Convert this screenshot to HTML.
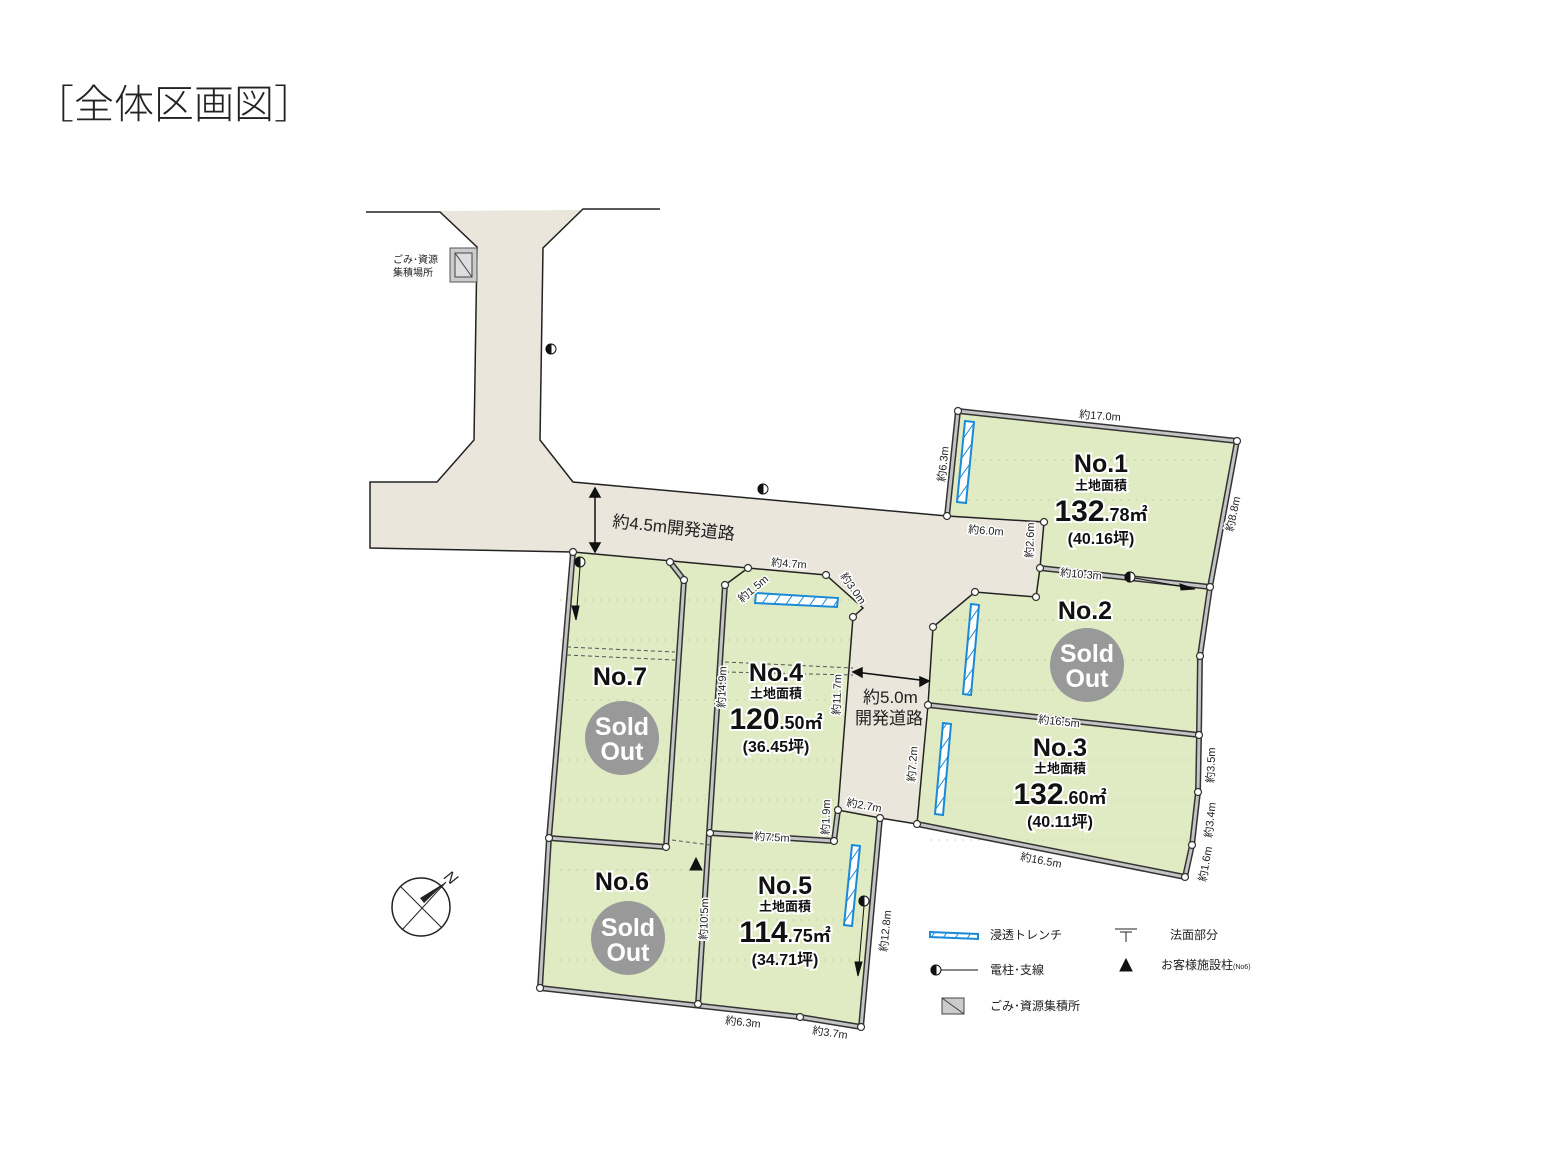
<!DOCTYPE html>
<html><head><meta charset="utf-8"><style>
html,body{margin:0;padding:0;background:#fff;}
svg{display:block;font-family:"Liberation Sans","Noto Sans CJK JP",sans-serif;}
.m{font-size:11px;fill:#222;stroke:#fff;stroke-width:3px;paint-order:stroke;}
.big{font-weight:bold;fill:#111;stroke:#fff;stroke-width:4px;paint-order:stroke;}
</style></head><body>
<svg width="1560" height="1170" viewBox="0 0 1560 1170" xmlns="http://www.w3.org/2000/svg">
<text x="34" y="118" font-size="40" fill="#222" font-family="Noto Sans CJK JP,sans-serif" font-weight="300">［全体区画図］</text>

<!-- road -->
<polygon fill="#ebe6dc" points="440,211 582,210 543,248 540,440 573,482 947,516 1044,522 1036,597 975,592 933,627 917,824 880,818 836,808 853,617 863,608 826,575 748,568 573,552 370,548 370,482 437,482 474,440 477,247"/>
<polyline fill="none" stroke="#222" stroke-width="1.5" points="366,212 440,212 477,247 474,440 437,482 370,482 370,548 573,552"/>
<polyline fill="none" stroke="#222" stroke-width="1.5" points="660,209 583,209 543,248 540,440 573,482 947,516"/>

<!-- lots -->
<g fill="#e0eac3">
<polygon points="958,411 1237,441 1210,587 1040,568 1044,522 947,516"/>
<polygon points="1036,568 1210,587 1200,656 1199,735 928,705 933,627 975,592 1036,597"/>
<polygon points="928,705 1199,735 1198,792 1192,845 1185,877 917,824"/>
<polygon points="573,552 748,568 826,575 863,608 853,617 838,810 880,818 861,1027 540,988"/>
</g>
<g stroke="#b8cc96" stroke-width="1" stroke-dasharray="2 6" opacity="0.7">
<path d="M560 600H850M560 640H850M560 700H840M560 760H840M560 800H840M560 870H870M560 920H860M560 960H860"/>
<path d="M950 460H1220M960 500H1220M940 620H1200M940 660H1200M940 690H1200M930 760H1190M930 800H1190M930 840H1190"/>
</g>

<!-- boundaries -->
<g fill="none" stroke="#333" stroke-width="6" stroke-linejoin="round">
<polyline points="947,516 958,411 1237,441 1210,587 1200,656 1199,735 1198,792 1192,845 1185,877 917,824"/>
<line x1="1040" y1="568" x2="1210" y2="587"/>
<line x1="928" y1="705" x2="1199" y2="735"/>
<line x1="573" y1="552" x2="549" y2="838"/><line x1="549" y1="838" x2="540" y2="988"/>
<polyline points="540,988 800,1017 861,1027 880,818"/>
<polyline points="670,562 684,580 666,847"/>
<line x1="725" y1="585" x2="698" y2="1004"/>
<line x1="549" y1="838" x2="666" y2="847"/>
<line x1="710" y1="833" x2="834" y2="841"/>
<line x1="834" y1="841" x2="838" y2="810"/>
</g>
<g fill="none" stroke="#c4c4c4" stroke-width="3" stroke-linejoin="round">
<polyline points="947,516 958,411 1237,441 1210,587 1200,656 1199,735 1198,792 1192,845 1185,877 917,824"/>
<line x1="1040" y1="568" x2="1210" y2="587"/>
<line x1="928" y1="705" x2="1199" y2="735"/>
<line x1="573" y1="552" x2="549" y2="838"/><line x1="549" y1="838" x2="540" y2="988"/>
<polyline points="540,988 800,1017 861,1027 880,818"/>
<polyline points="670,562 684,580 666,847"/>
<line x1="725" y1="585" x2="698" y2="1004"/>
<line x1="549" y1="838" x2="666" y2="847"/>
<line x1="710" y1="833" x2="834" y2="841"/>
<line x1="834" y1="841" x2="838" y2="810"/>
</g>
<g fill="none" stroke="#222" stroke-width="1.5">
<polyline points="573,552 748,568 826,575 863,608 853,617 838,810 880,818 917,824 928,705 933,627 975,592 1036,597 1040,568 1044,522 947,516"/>
<polyline points="748,568 725,585"/>
</g>
<g stroke="#555" stroke-dasharray="4 3" fill="none">
<path d="M567 647L675 652M567 655L675 660M725 662L853 668M725 672L853 675M672 840L710 845"/>
</g>
<g fill="#fff" stroke="#333" stroke-width="1.2">
<circle cx="958" cy="411" r="3.5"/><circle cx="1237" cy="441" r="3.5"/><circle cx="947" cy="516" r="3.5"/><circle cx="1044" cy="522" r="3.5"/><circle cx="1040" cy="568" r="3.5"/><circle cx="1210" cy="587" r="3.5"/><circle cx="1036" cy="597" r="3.5"/><circle cx="975" cy="592" r="3.5"/><circle cx="933" cy="627" r="3.5"/><circle cx="1200" cy="656" r="3.5"/><circle cx="928" cy="705" r="3.5"/><circle cx="1199" cy="735" r="3.5"/><circle cx="1198" cy="792" r="3.5"/><circle cx="1192" cy="845" r="3.5"/><circle cx="1185" cy="877" r="3.5"/><circle cx="917" cy="824" r="3.5"/><circle cx="880" cy="818" r="3.5"/><circle cx="838" cy="810" r="3.5"/><circle cx="834" cy="841" r="3.5"/><circle cx="710" cy="833" r="3.5"/><circle cx="853" cy="617" r="3.5"/><circle cx="826" cy="575" r="3.5"/><circle cx="748" cy="568" r="3.5"/><circle cx="725" cy="585" r="3.5"/><circle cx="670" cy="562" r="3.5"/><circle cx="684" cy="580" r="3.5"/><circle cx="573" cy="552" r="3.5"/><circle cx="549" cy="838" r="3.5"/><circle cx="666" cy="847" r="3.5"/><circle cx="540" cy="988" r="3.5"/><circle cx="698" cy="1004" r="3.5"/><circle cx="800" cy="1017" r="3.5"/><circle cx="861" cy="1027" r="3.5"/>
</g>

<defs><pattern id="h" width="10" height="10" patternUnits="userSpaceOnUse" patternTransform="rotate(35)"><rect width="10" height="10" fill="#fff"/><line x1="0" y1="0" x2="0" y2="10" stroke="#1a8ad8" stroke-width="2"/></pattern></defs>
<g fill="url(#h)" stroke="#1a8ad8" stroke-width="2">
<polygon points="965,421 974,422 966,503 957,502"/>
<polygon points="756,593 838,598 837,607 755,603"/>
<polygon points="971,604 979,605 971,695 963,694"/>
<polygon points="943,723 951,724 943,815 935,814"/>
<polygon points="852,845 860,846 852,926 844,925"/>
<polygon points="930,932 978,934 978,939 930,937"/>
</g>

<g stroke="#111" fill="#111">
<circle cx="551" cy="349" r="5" fill="#fff"/><path d="M551 344a5 5 0 0 0 0 10z"/>
<circle cx="763" cy="489" r="5" fill="#fff"/><path d="M763 484a5 5 0 0 0 0 10z"/>
<circle cx="580" cy="562" r="5" fill="#fff"/><path d="M580 557a5 5 0 0 0 0 10z"/>
<line x1="580" y1="567" x2="576" y2="620"/><path d="M572 606l4 14 3-14z"/>
<circle cx="1130" cy="577" r="5" fill="#fff"/><path d="M1130 572a5 5 0 0 0 0 10z"/>
<line x1="1135" y1="578" x2="1195" y2="589"/><path d="M1180 584l15 5-14 1z"/>
<circle cx="864" cy="901" r="5" fill="#fff"/><path d="M864 896a5 5 0 0 0 0 10z"/>
<line x1="864" y1="906" x2="858" y2="976"/><path d="M855 962l3 14 4-14z"/>
<circle cx="936" cy="970" r="5" fill="#fff"/><path d="M936 965a5 5 0 0 0 0 10z"/><line x1="941" y1="970" x2="978" y2="970"/>
<path d="M690 870l6-12 6 12z"/><path d="M1120 971l6-12 6 12z"/>
</g>
<rect x="450" y="248" width="27" height="34" fill="#ccc" stroke="#555"/>
<rect x="455" y="253" width="17" height="24" fill="#ddd" stroke="#444"/>
<line x1="455" y1="253" x2="472" y2="277" stroke="#444"/>
<rect x="942" y="998" width="22" height="16" fill="#ccc" stroke="#444"/>
<line x1="942" y1="998" x2="964" y2="1014" stroke="#444"/>
<text x="393" y="263" font-size="10" fill="#222">ごみ･資源</text><text x="393" y="276" font-size="10" fill="#222">集積場所</text>

<g stroke="#111" fill="#111" stroke-width="1.5">
<line x1="595" y1="490" x2="595" y2="550"/><path d="M590 497l5-9 5 9z"/><path d="M590 543l5 9 5-9z"/>
<line x1="855" y1="672" x2="928" y2="681"/><path d="M862 668l-9 4 9 5z"/><path d="M920 677l9 4-9 5z"/>
</g>
<text x="612" y="527" font-size="17" fill="#222" transform="rotate(6 612 527)">約4.5m開発道路</text>
<text x="863" y="703" font-size="17" fill="#222">約5.0m</text>
<text x="855" y="724" font-size="17" fill="#222">開発道路</text>

<g class="m">
<text x="1079" y="418" transform="rotate(4 1079 418)">約17.0m</text>
<text x="945" y="482" transform="rotate(-84 945 482)">約6.3m</text>
<text x="1233" y="532" transform="rotate(-78 1233 532)">約8.8m</text>
<text x="968" y="533" transform="rotate(4 968 533)">約6.0m</text>
<text x="1033" y="558" transform="rotate(-88 1033 558)">約2.6m</text>
<text x="1060" y="576" transform="rotate(5 1060 576)">約10.3m</text>
<text x="1038" y="723" transform="rotate(6 1038 723)">約16.5m</text>
<text x="915" y="782" transform="rotate(-86 915 782)">約7.2m</text>
<text x="1214" y="783" transform="rotate(-88 1214 783)">約3.5m</text>
<text x="1212" y="838" transform="rotate(-84 1212 838)">約3.4m</text>
<text x="1206" y="882" transform="rotate(-80 1206 882)">約1.6m</text>
<text x="1020" y="860" transform="rotate(11 1020 860)">約16.5m</text>
<text x="771" y="566" transform="rotate(4 771 566)">約4.7m</text>
<text x="742" y="603" transform="rotate(-40 742 603)">約1.5m</text>
<text x="840" y="576" transform="rotate(55 840 576)">約3.0m</text>
<text x="725" y="708" transform="rotate(-88 725 708)">約14.9m</text>
<text x="840" y="715" transform="rotate(-88 840 715)">約11.7m</text>
<text x="829" y="835" transform="rotate(-88 829 835)">約1.9m</text>
<text x="846" y="806" transform="rotate(10 846 806)">約2.7m</text>
<text x="754" y="840" transform="rotate(3 754 840)">約7.5m</text>
<text x="707" y="940" transform="rotate(-88 707 940)">約10.5m</text>
<text x="887" y="952" transform="rotate(-84 887 952)">約12.8m</text>
<text x="725" y="1024" transform="rotate(6 725 1024)">約6.3m</text>
<text x="812" y="1034" transform="rotate(8 812 1034)">約3.7m</text>
</g>

<g text-anchor="middle">
<text class="big" x="1101" y="472" font-size="25">No.1</text>
<text class="big" x="1101" y="490" font-size="13">土地面積</text>
<text class="big" x="1101" y="521" font-size="30">132<tspan font-size="18">.78㎡</tspan></text>
<text class="big" x="1101" y="544" font-size="16">(40.16坪)</text>
<text class="big" x="1085" y="619" font-size="25">No.2</text>
<text class="big" x="1060" y="756" font-size="25">No.3</text>
<text class="big" x="1060" y="773" font-size="13">土地面積</text>
<text class="big" x="1060" y="804" font-size="30">132<tspan font-size="18">.60㎡</tspan></text>
<text class="big" x="1060" y="827" font-size="16">(40.11坪)</text>
<text class="big" x="776" y="681" font-size="25">No.4</text>
<text class="big" x="776" y="698" font-size="13">土地面積</text>
<text class="big" x="776" y="729" font-size="30">120<tspan font-size="18">.50㎡</tspan></text>
<text class="big" x="776" y="752" font-size="16">(36.45坪)</text>
<text class="big" x="620" y="685" font-size="25">No.7</text>
<text class="big" x="622" y="890" font-size="25">No.6</text>
<text class="big" x="785" y="894" font-size="25">No.5</text>
<text class="big" x="785" y="911" font-size="13">土地面積</text>
<text class="big" x="785" y="942" font-size="30">114<tspan font-size="18">.75㎡</tspan></text>
<text class="big" x="785" y="965" font-size="16">(34.71坪)</text>
</g>
<g text-anchor="middle" fill="#fff" font-size="25" font-weight="bold">
<circle cx="1087" cy="665" r="37" fill="#999"/><text x="1087" y="662">Sold</text><text x="1087" y="687">Out</text>
<circle cx="622" cy="738" r="37" fill="#999"/><text x="622" y="735">Sold</text><text x="622" y="760">Out</text>
<circle cx="628" cy="938" r="37" fill="#999"/><text x="628" y="936">Sold</text><text x="628" y="961">Out</text>
</g>

<circle cx="421" cy="907" r="29" fill="none" stroke="#222" stroke-width="1.5"/>
<line x1="400" y1="886" x2="442" y2="928" stroke="#222"/>
<line x1="402" y1="930" x2="446" y2="882" stroke="#222"/>
<polygon points="446,882 424,903 420,898" fill="#222"/>
<text x="443" y="878" font-size="16" font-style="italic" fill="#222" transform="rotate(40 443 878)">N</text>

<g font-size="12" fill="#222">
<text x="990" y="939">浸透トレンチ</text>
<text x="990" y="974">電柱･支線</text>
<text x="990" y="1010">ごみ･資源集積所</text>
<text x="1170" y="939">法面部分</text>
<text x="1161" y="969">お客様施設柱<tspan font-size="7">(No6)</tspan></text>
</g>
<path d="M1115 929H1137M1120 932H1132M1126 932V942" stroke="#222" fill="none"/>
</svg>
</body></html>
